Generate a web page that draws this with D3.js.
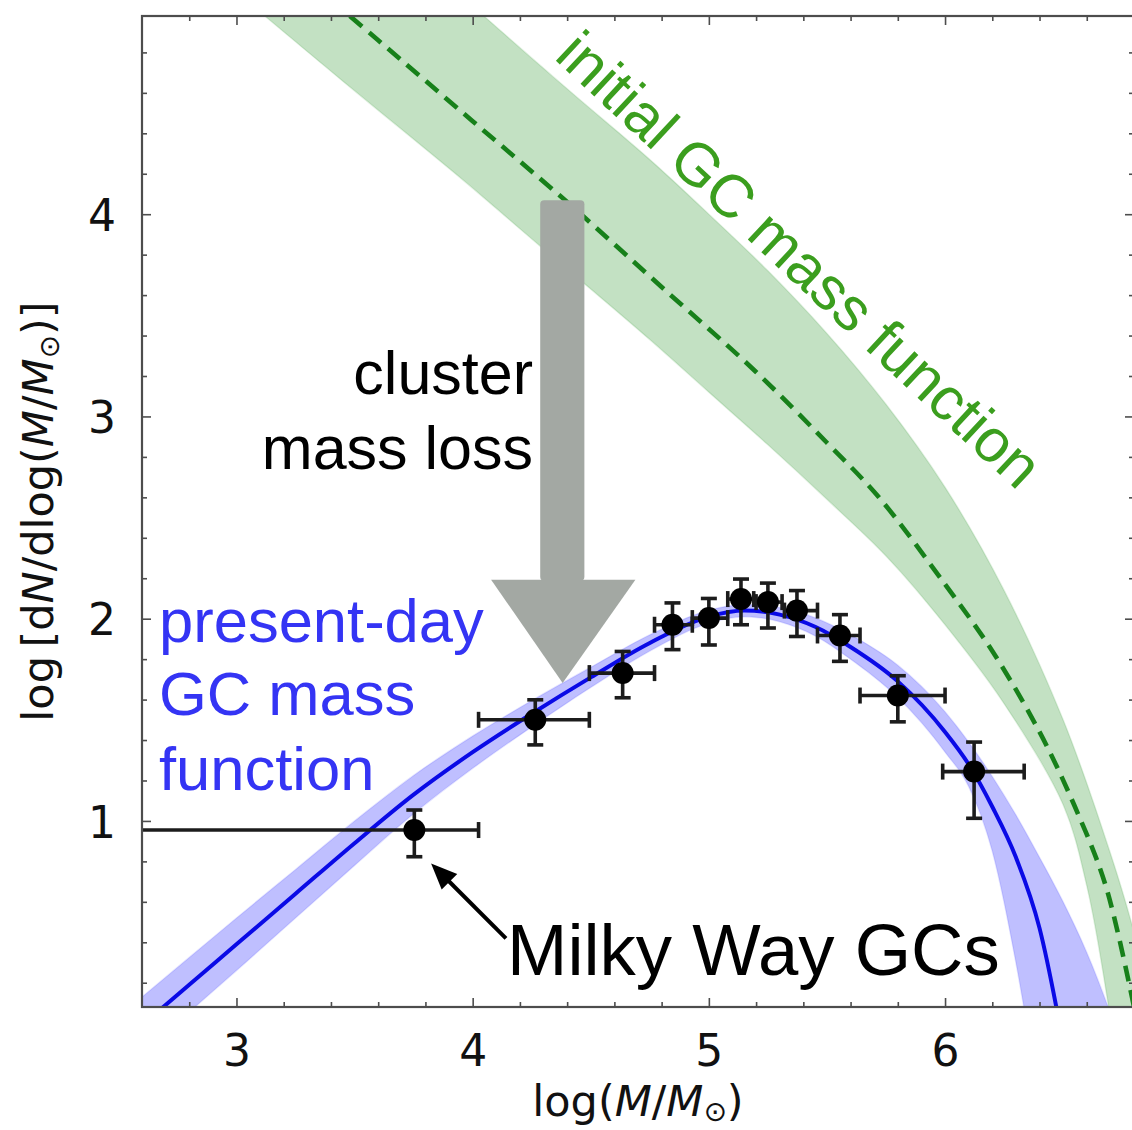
<!DOCTYPE html>
<html><head><meta charset="utf-8">
<script src="https://cdn.jsdelivr.net/npm/d3@7"></script>
<style>body{margin:0;background:#fff}svg{display:block}</style>
</head><body>
<svg id="chart" width="1132" height="1130"></svg>
<script>
// ---------- data ----------
const xMajorTicks = [3, 4, 5, 6];
const yMajorTicks = [1, 2, 3, 4];

// Milky Way GC binned mass function
const gcX   = [3.753, 4.265, 4.635, 4.846, 5.0, 5.136, 5.25, 5.373, 5.555, 5.80, 6.123];
const gcY   = [0.955, 1.50, 1.731, 1.97, 2.003, 2.097, 2.082, 2.04, 1.917, 1.62, 1.244];
const gcXlo = [2.0, 4.025, 4.494, 4.77, 4.93, 5.08, 5.20, 5.32, 5.46, 5.64, 5.99];
const gcXhi = [4.025, 4.494, 4.77, 4.93, 5.08, 5.19, 5.31, 5.46, 5.64, 6.0, 6.335];
const gcYlo = [0.823, 1.376, 1.609, 1.847, 1.87, 1.97, 1.954, 1.912, 1.789, 1.49, 1.013];
const gcYhi = [1.054, 1.599, 1.838, 2.078, 2.10, 2.196, 2.176, 2.139, 2.02, 1.718, 1.39];

// present-day fit (blue) and its band
const fitX  = [2.6, 2.8, 3.0, 3.25, 3.5, 3.75, 4.0, 4.25, 4.5, 4.75, 5.0, 5.15, 5.3, 5.45, 5.6, 5.8, 6.0, 6.1, 6.2, 6.3, 6.4, 6.5, 6.6, 6.7, 6.8];
const fitY  = [-0.01, 0.19, 0.39, 0.64, 0.89, 1.13, 1.34, 1.53, 1.71, 1.88, 2.01, 2.04, 2.02, 1.96, 1.86, 1.69, 1.44, 1.28, 1.07, 0.82, 0.47, -0.1, -0.8, -1.6, -2.5];
const fitHi = [0.13, 0.325, 0.52, 0.76, 1.0, 1.225, 1.42, 1.595, 1.76, 1.92, 2.042, 2.07, 2.055, 2.005, 1.92, 1.77, 1.54, 1.39, 1.22, 1.03, 0.82, 0.6, 0.35, 0.05, -0.3];
const fitLo = [-0.15, 0.055, 0.26, 0.52, 0.78, 1.035, 1.26, 1.465, 1.66, 1.84, 1.978, 2.01, 1.985, 1.915, 1.80, 1.61, 1.34, 1.17, 0.85, 0.3, -0.4, -1.2, -2.0, -2.8, -3.6];

// initial GC mass function (green, dashed) and its band edges
const iniX   = [3.4, 3.6, 4.0, 4.4, 4.8, 5.2, 5.5, 5.72, 6.0, 6.2, 6.4, 6.55, 6.68, 6.8];
const iniY   = [5.06, 4.86, 4.46, 4.06, 3.64, 3.22, 2.87, 2.60, 2.17, 1.84, 1.44, 1.07, 0.68, 0.08];
const iniHiX = [3.9, 4.057, 4.4, 4.75, 5.0, 5.25, 5.5, 5.75, 6.0, 6.25, 6.5, 6.7, 6.8, 6.9];
const iniHiY = [5.13, 4.97, 4.62, 4.27, 4.0, 3.72, 3.41, 3.06, 2.65, 2.14, 1.50, 0.84, 0.45, -0.05];
const iniLoX = [3.0, 3.13, 3.5, 3.958, 4.282, 4.75, 5.0, 5.25, 5.5, 5.75, 6.0, 6.25, 6.5, 6.6, 6.69, 6.75, 6.8];
const iniLoY = [5.1, 4.97, 4.61, 4.17, 3.846, 3.38, 3.12, 2.86, 2.59, 2.31, 1.97, 1.58, 1.08, 0.68, 0.1, -0.4, -1.5];

// annotation arrows (data coordinates)
const grayShaftX = [4.286, 4.473];
const grayShaftY = [4.069, 2.193];
const grayHeadX  = [4.078, 4.689, 4.381];
const grayHeadY  = [2.193, 2.193, 1.682];
const blackArrowX = [4.141, 3.824];
const blackArrowY = [0.419, 0.79];

// ---------- layout ----------
const svg = d3.select("#chart");
const X0 = 142, X1 = 1134, Y0 = 16, Y1 = 1007;
const x = d3.scaleLinear().domain([2.6, 6.8]).range([X0, X1]);
const y = d3.scaleLinear().domain([0.08, 4.98]).range([Y1, Y0]);

svg.append("rect").attr("width", 1132).attr("height", 1130).attr("fill", "#fff");
svg.append("defs").append("clipPath").attr("id", "clip")
  .append("rect").attr("x", X0).attr("y", Y0).attr("width", X1 - X0).attr("height", Y1 - Y0);

const plot = svg.append("g").attr("clip-path", "url(#clip)");

// green band polygon
const greenPoly = iniHiX.map((v, i) => [v, iniHiY[i]])
  .concat(iniLoX.map((v, i) => [v, iniLoY[i]]).reverse());
plot.append("path")
  .attr("d", d3.line().x(d => x(d[0])).y(d => y(d[1])).curve(d3.curveCatmullRomClosed.alpha(0.5))(greenPoly))
  .attr("fill", "#008000").attr("fill-opacity", 0.235)
  .attr("stroke", "#008000").attr("stroke-opacity", 0.12).attr("stroke-width", 1.5);

// green dashed line
plot.append("path")
  .attr("d", d3.line().x((d, i) => x(iniX[i])).y(d => y(d)).curve(d3.curveCatmullRom.alpha(0.5))(iniY))
  .attr("fill", "none").attr("stroke", "#17801a").attr("stroke-width", 4.6)
  .attr("stroke-dasharray", "16,9");

// blue band
plot.append("path")
  .attr("d", d3.area().x((d, i) => x(fitX[i])).y0((d, i) => y(fitLo[i])).y1(d => y(d))
    .curve(d3.curveMonotoneX)(fitHi))
  .attr("fill", "#0000ff").attr("fill-opacity", 0.25)
  .attr("stroke", "#0000ff").attr("stroke-opacity", 0.1).attr("stroke-width", 1.5);

// blue line
plot.append("path")
  .attr("d", d3.line().x((d, i) => x(fitX[i])).y(d => y(d)).curve(d3.curveMonotoneX)(fitY))
  .attr("fill", "none").attr("stroke", "#0a0ae6").attr("stroke-width", 4);

// error bars
const eb = plot.append("g").attr("stroke", "#1c1c1c").attr("stroke-width", 3.6);
gcX.forEach((xv, i) => {
  eb.append("line").attr("x1", x(gcXlo[i])).attr("x2", x(gcXhi[i])).attr("y1", y(gcY[i])).attr("y2", y(gcY[i]));
  eb.append("line").attr("x1", x(xv)).attr("x2", x(xv)).attr("y1", y(gcYlo[i])).attr("y2", y(gcYhi[i]));
  [gcXlo[i], gcXhi[i]].forEach(v => eb.append("line").attr("x1", x(v)).attr("x2", x(v))
    .attr("y1", y(gcY[i]) - 8).attr("y2", y(gcY[i]) + 8));
  [gcYlo[i], gcYhi[i]].forEach(v => eb.append("line").attr("x1", x(xv) - 8).attr("x2", x(xv) + 8)
    .attr("y1", y(v)).attr("y2", y(v)));
});
plot.append("g").selectAll("circle").data(gcX).join("circle")
  .attr("cx", d => x(d)).attr("cy", (d, i) => y(gcY[i])).attr("r", 11).attr("fill", "#000");

// gray arrow
const gray = "#a3a8a3";
svg.append("rect").attr("x", x(grayShaftX[0])).attr("y", y(grayShaftY[0]))
  .attr("width", x(grayShaftX[1]) - x(grayShaftX[0])).attr("height", y(grayShaftY[1]) - y(grayShaftY[0]) + 1)
  .attr("rx", 4).attr("fill", gray);
svg.append("path")
  .attr("d", d3.line()(grayHeadX.map((v, i) => [x(v), y(grayHeadY[i])])) + "Z")
  .attr("fill", gray);

// black arrow
(function () {
  const tx = x(blackArrowX[0]), ty = y(blackArrowY[0]);
  const hx = x(blackArrowX[1]), hy = y(blackArrowY[1]);
  const ang = Math.atan2(hy - ty, hx - tx);
  const L = 26, W = 11;
  const bx = hx - L * Math.cos(ang), by = hy - L * Math.sin(ang);
  svg.append("line").attr("x1", tx).attr("y1", ty).attr("x2", bx + 4 * Math.cos(ang)).attr("y2", by + 4 * Math.sin(ang))
    .attr("stroke", "#000").attr("stroke-width", 4);
  const px = -Math.sin(ang), py = Math.cos(ang);
  svg.append("path").attr("d", `M${hx},${hy}L${bx + W * px},${by + W * py}L${bx - W * px},${by - W * py}Z`)
    .attr("fill", "#000");
})();

// ---------- axes ----------
const axisColor = "#4d4d4d";
const minorTicksX = d3.range(28, 69, 2).map(v => v / 10).filter(v => !xMajorTicks.includes(v));
const minorTicksY = d3.range(2, 50, 2).map(v => v / 10).filter(v => !yMajorTicks.includes(v));

function styleAxis(g) {
  g.select(".domain").remove();
  g.selectAll(".tick line").attr("stroke", axisColor).attr("stroke-width", 1.6);
  g.selectAll("text").attr("font-family", "DejaVu Sans").attr("font-size", 44).attr("fill", "#111");
}
// bottom
svg.append("g").attr("transform", `translate(0,${Y1})`)
  .call(d3.axisBottom(x).tickValues(xMajorTicks).tickSizeInner(-9).tickSizeOuter(0).tickPadding(28).tickFormat(d3.format("d")))
  .call(styleAxis);
svg.append("g").attr("transform", `translate(0,${Y1})`)
  .call(d3.axisBottom(x).tickValues(minorTicksX).tickSizeInner(-5).tickSizeOuter(0).tickFormat(""))
  .call(styleAxis);
// top
svg.append("g").attr("transform", `translate(0,${Y0})`)
  .call(d3.axisTop(x).tickValues(xMajorTicks).tickSizeInner(-9).tickSizeOuter(0).tickFormat(""))
  .call(styleAxis);
svg.append("g").attr("transform", `translate(0,${Y0})`)
  .call(d3.axisTop(x).tickValues(minorTicksX).tickSizeInner(-5).tickSizeOuter(0).tickFormat(""))
  .call(styleAxis);
// left
svg.append("g").attr("transform", `translate(${X0},0)`)
  .call(d3.axisLeft(y).tickValues(yMajorTicks).tickSizeInner(-9).tickSizeOuter(0).tickPadding(26).tickFormat(d3.format("d")))
  .call(styleAxis)
  .call(g => g.selectAll("text").attr("dy", "0.37em"));
svg.append("g").attr("transform", `translate(${X0},0)`)
  .call(d3.axisLeft(y).tickValues(minorTicksY).tickSizeInner(-5).tickSizeOuter(0).tickFormat(""))
  .call(styleAxis);
// right
svg.append("g").attr("transform", `translate(${X1},0)`)
  .call(d3.axisRight(y).tickValues(yMajorTicks).tickSizeInner(-9).tickSizeOuter(0).tickFormat(""))
  .call(styleAxis);
svg.append("g").attr("transform", `translate(${X1},0)`)
  .call(d3.axisRight(y).tickValues(minorTicksY).tickSizeInner(-5).tickSizeOuter(0).tickFormat(""))
  .call(styleAxis);

// frame
svg.append("rect").attr("x", X0).attr("y", Y0).attr("width", X1 - X0).attr("height", Y1 - Y0)
  .attr("fill", "none").attr("stroke", axisColor).attr("stroke-width", 2.2);

// axis labels
const xl = svg.append("text").attr("x", (X0 + X1) / 2).attr("y", 1116).attr("text-anchor", "middle")
  .attr("font-family", "DejaVu Sans").attr("font-size", 43).attr("fill", "#111");
xl.append("tspan").text("log(");
xl.append("tspan").attr("font-style", "italic").text("M");
xl.append("tspan").text("/");
xl.append("tspan").attr("font-style", "italic").text("M");
xl.append("tspan").attr("font-size", 28).attr("dy", 5).text("⊙");
xl.append("tspan").attr("dy", -5).text(")");

const yl = svg.append("text").attr("transform", `translate(53,${(Y0 + Y1) / 2}) rotate(-90)`)
  .attr("text-anchor", "middle")
  .attr("font-family", "DejaVu Sans").attr("font-size", 43).attr("fill", "#111");
yl.append("tspan").text("log\u2009[d");
yl.append("tspan").attr("font-style", "italic").text("N");
yl.append("tspan").text("/dlog(");
yl.append("tspan").attr("font-style", "italic").text("M");
yl.append("tspan").text("/");
yl.append("tspan").attr("font-style", "italic").text("M");
yl.append("tspan").attr("font-size", 28).attr("dy", 6).text("⊙");
yl.append("tspan").attr("dy", -6).text(")]");

// annotation texts
const sans = "Liberation Sans, Arial, Helvetica, sans-serif";
svg.append("text").attr("transform", "translate(553,58) rotate(43)")
  .attr("font-family", sans).attr("font-size", 60.5).attr("fill", "#3b9e1e")
  .text("initial GC mass function");

const cl = svg.append("text").attr("font-family", sans).attr("font-size", 61).attr("fill", "#000")
  .attr("text-anchor", "end");
cl.append("tspan").attr("x", 533).attr("y", 394).text("cluster");
cl.append("tspan").attr("x", 533).attr("y", 469).text("mass loss");

const pd = svg.append("text").attr("font-family", sans).attr("font-size", 61.5).attr("fill", "#3434f4");
pd.append("tspan").attr("x", 159).attr("y", 642).text("present-day");
pd.append("tspan").attr("x", 159).attr("y", 715).text("GC mass");
pd.append("tspan").attr("x", 159).attr("y", 790).text("function");

svg.append("text").attr("x", 507).attr("y", 975).attr("font-family", sans).attr("font-size", 72.5)
  .attr("fill", "#000").text("Milky Way GCs");
</script>
</body></html>
